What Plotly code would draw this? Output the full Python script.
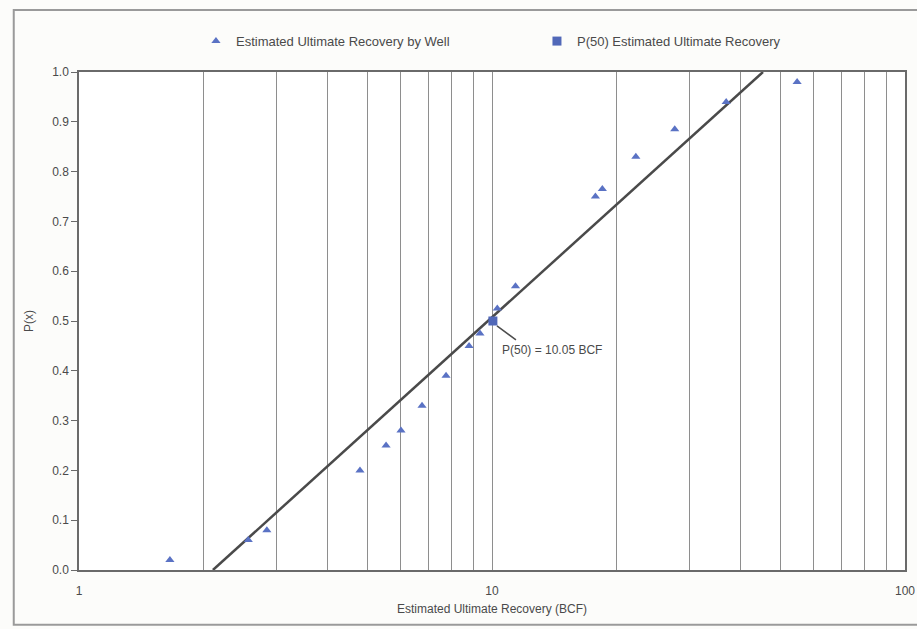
import plotly.graph_objects as go

# Estimated ultimate recovery per well (BCF) and its cumulative probability
eur_bcf = [1.66, 2.57, 2.85, 4.79, 5.54, 6.02, 6.77, 7.74, 8.80, 9.35, 10.3, 11.4,
           17.8, 18.5, 22.3, 27.7, 36.9, 54.8]
prob = [0.02, 0.06, 0.08, 0.20, 0.25, 0.28, 0.33, 0.39, 0.45, 0.475, 0.525, 0.57,
        0.75, 0.765, 0.83, 0.885, 0.94, 0.98]

# P(50) estimate
p50_bcf = [10.05]
p50_prob = [0.5]

# Straight-line lognormal fit on the log-probability grid
fit_x = [2.11, 45.3]
fit_y = [0.0, 1.0]

x_major = [1, 10, 100]
x_minor = [2, 3, 4, 5, 6, 7, 8, 9, 20, 30, 40, 50, 60, 70, 80, 90]
y_ticks = [0.0, 0.1, 0.2, 0.3, 0.4, 0.5, 0.6, 0.7, 0.8, 0.9, 1.0]

FONT = "Liberation Sans, Arial, sans-serif"
TXT = "#4a4a4a"
GRID = "#8e8e8e"

fig = go.Figure()

fig.add_trace(go.Scatter(
    x=fit_x, y=fit_y, mode="lines",
    line=dict(color="#4a4a4a", width=2.5),
    showlegend=False, hoverinfo="skip",
))

fig.add_trace(go.Scatter(
    x=eur_bcf, y=prob, mode="markers",
    name="Estimated Ultimate Recovery by Well",
    marker=dict(symbol="triangle-up", size=8, color="#5a72c4"),
))

fig.add_trace(go.Scatter(
    x=p50_bcf, y=p50_prob, mode="markers",
    name="P(50) Estimated Ultimate Recovery",
    marker=dict(symbol="square", size=9, color="#5168b8"),
))

# Arrow pointing at the P(50) marker and its label
fig.add_annotation(
    x=1.012, y=0.49, xref="x", yref="y",
    text=" ", showarrow=True, arrowhead=0, arrowwidth=1.5,
    arrowcolor="#4d4d4d", ax=22, ay=16, standoff=0,
)
fig.add_annotation(
    x=1.019, y=0.442, xref="x", yref="y",
    text=f"P(50) = {p50_bcf[0]:.2f} BCF", showarrow=False,
    xanchor="left", yanchor="middle",
    font=dict(family=FONT, size=12, color=TXT),
)

# Outer chart frame
fig.add_shape(
    type="rect", xref="paper", yref="paper",
    x0=-0.079, x1=1.03, y0=-0.11, y1=1.1245,
    line=dict(color="#9a9a9a", width=2), layer="below",
)

fig.update_layout(
    width=917, height=629,
    margin=dict(l=79, r=12, t=72, b=59, autoexpand=False),
    paper_bgcolor="#fcfcfa",
    plot_bgcolor="#ffffff",
    font=dict(family=FONT, size=12, color=TXT),
    legend=dict(
        orientation="h", x=0.1416, y=1.062, xanchor="left", yanchor="middle",
        entrywidth=296, entrywidthmode="pixels",
        font=dict(family=FONT, size=13, color=TXT),
        bgcolor="rgba(0,0,0,0)",
    ),
    xaxis=dict(
        type="log", range=[0, 2], automargin=False,
        tickvals=x_major, ticktext=[str(v) for v in x_major],
        showgrid=True, gridcolor=GRID, gridwidth=1,
        minor=dict(tickvals=x_minor, showgrid=True, gridcolor=GRID, gridwidth=1, ticks=""),
        ticks="", ticklabelstandoff=9,
        showline=True, linecolor="#6a6a6a", linewidth=1.5, mirror=True,
        zeroline=False,
        title=dict(text="Estimated Ultimate Recovery (BCF)", standoff=7,
                   font=dict(family=FONT, size=12, color=TXT)),
        tickfont=dict(family=FONT, size=12, color=TXT),
    ),
    yaxis=dict(
        range=[0, 1], automargin=False,
        tickvals=y_ticks, ticktext=[f"{v:.1f}" for v in y_ticks],
        showgrid=False, zeroline=False,
        ticks="outside", ticklen=6, tickcolor="#6a6a6a",
        showline=True, linecolor="#6a6a6a", linewidth=1.5, mirror=True,
        title=dict(text="P(x)", standoff=16,
                   font=dict(family=FONT, size=12, color=TXT)),
        tickfont=dict(family=FONT, size=12, color=TXT),
    ),
)

fig.write_html("out.html")
